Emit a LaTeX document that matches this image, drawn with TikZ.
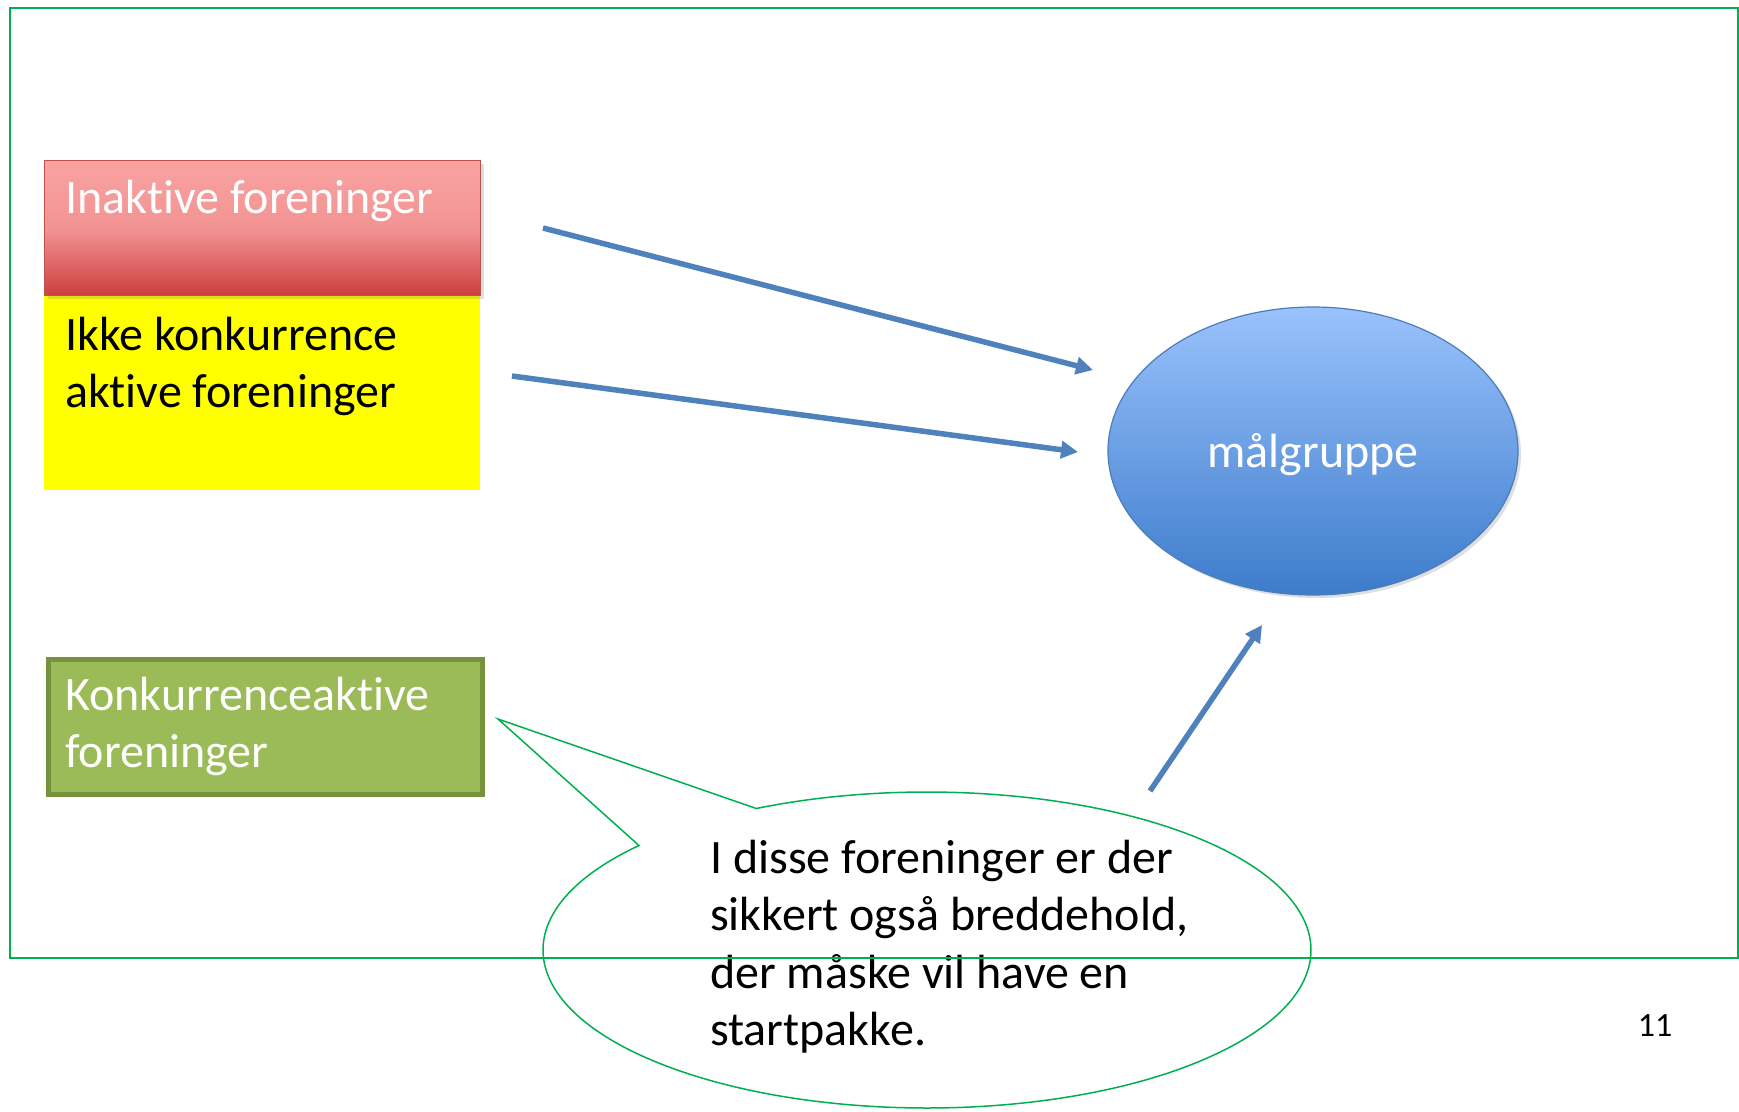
\documentclass[tikz,border=0pt]{standalone}
\usepackage{fontspec}
\setmainfont{Carlito}[Ligatures=NoCommon]
\usetikzlibrary{arrows.meta,shadows,calc,shapes.geometric}
\definecolor{frameg}{HTML}{00B050}
\definecolor{redtop}{HTML}{F9A2A2}
\definecolor{redbot}{HTML}{CD3F3F}
\definecolor{redline}{HTML}{C0504D}
\definecolor{yel}{HTML}{FFFF00}
\definecolor{grfill}{HTML}{9BBB59}
\definecolor{grline}{HTML}{76923C}
\definecolor{bltop}{HTML}{9AC2FC}
\definecolor{blbot}{HTML}{3D7CCB}
\definecolor{blline}{HTML}{4A7EBB}
\definecolor{arrowc}{HTML}{4F81BD}
\tikzset{
  bigtext/.style={font=\fontsize{48}{57.5}\selectfont, inner sep=0pt, anchor=base west, align=left},
  arr/.style={arrowc, line width=5.5pt, -{Triangle[length=17pt,width=17pt]}},
  soft/.style={drop shadow={opacity=0.25, shadow xshift=3pt, shadow yshift=-3pt}}
}
\begin{document}
\begin{tikzpicture}[x=1pt,y=1pt]
\useasboundingbox (0,0) rectangle (1739,-1111);
\fill[white] (0,0) rectangle (1739,-1111);
% boxes
\node[fill=yel, minimum width=436pt, minimum height=195pt, anchor=north west, inner sep=0pt] (yelbox) at (44,-295) {};
\node[soft, draw=redline, line width=1.2pt, top color=redtop, bottom color=redbot, middle color=redtop!85!redbot,
  minimum width=436pt, minimum height=135pt, anchor=north west, inner sep=0pt] (inak) at (44,-160) {};
\node[draw=grline, fill=grfill, line width=5pt, minimum width=434pt, minimum height=135pt,
  anchor=north west, inner sep=0pt] (konk) at (45.5,-656.5) {};
% texts (anchor base = last line's baseline)
\node[bigtext, white] (t1) at (65,-213) {Inaktive foreninger};
\node[bigtext, black] (t2) at (65,-407.5) {Ikke konkurrence\\aktive foreninger};
\node[bigtext, white] (t3) at (65,-767.5) {Konkurrenceaktive\\foreninger};
% target ellipse
\node[soft, ellipse, draw=blline, line width=1.2pt, top color=bltop, bottom color=blbot,
  minimum width=410pt, minimum height=288pt, inner sep=0pt] (mal) at (1313,-451) {};
\node[font=\fontsize{48}{57.5}\selectfont, white, anchor=base, inner sep=0pt] (maltxt) at (1313,-467) {målgruppe};
% arrows
\coordinate (a1s) at (543,-228);
\coordinate (a1e) at (1093,-370);
\coordinate (a2s) at (512,-376);
\coordinate (a2e) at (1078,-452);
\coordinate (a3s) at (1150,-791);
\coordinate (a3e) at (1262,-625);
\draw[arr] (a1s) -- (a1e);
\draw[arr] (a2s) -- (a2e);
\draw[arr] (a3s) -- (a3e);
% callout
\coordinate (cc) at (927,-950);
\coordinate (tip) at (498,-719);
\draw[frameg, line width=1.5pt, line join=miter]
  ($(cc)+(138.6:384 and 158)$) arc[start angle=138.6, end angle=476.4, x radius=384, y radius=158]
  -- (tip) -- cycle;
\node[bigtext, black] (ctext) at (710,-1045.5) {I disse foreninger er der\\sikkert også breddehold,\\der måske vil have en\\startpakke.};
% frame
\node[draw=frameg, line width=2pt, minimum width=1728pt, minimum height=950pt, anchor=north west, inner sep=0pt] (frame) at (9,-7) {};
% page number
\node[font=\fontsize{34}{40}\selectfont, anchor=base, inner sep=0pt] (pnum) at (1655,-1036) {11};
\end{tikzpicture}
\end{document}
